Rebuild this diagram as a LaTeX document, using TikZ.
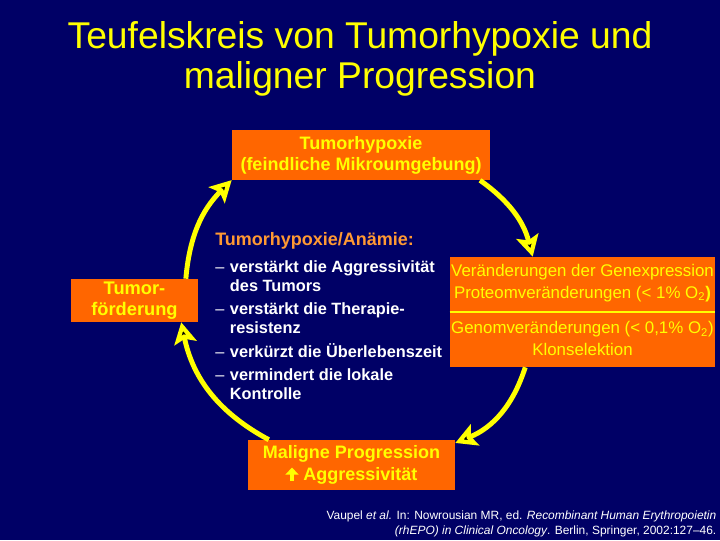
\documentclass[tikz,border=0pt]{standalone}
\usepackage{fontspec}
\setmainfont{Liberation Sans}
\usetikzlibrary{arrows.meta}
\definecolor{slidebg}{RGB}{0,0,102}
\definecolor{boxorange}{RGB}{255,102,0}
\definecolor{textyellow}{RGB}{255,255,0}
\definecolor{headorange}{RGB}{255,153,51}
\newcommand\dashitem{\makebox[0.9em][l]{\mdseries –}}
\newcommand\dashgap{\hspace*{0.9em}}
\newcommand\uparr{\tikz[baseline=0pt]\draw[textyellow,line width=2.2pt,
  -{Triangle[length=5pt,width=9pt]}] (0,0) -- (0,9.5pt);}
\begin{document}
\begin{tikzpicture}[x=0.025cm,y=0.025cm,
  box/.style={fill=boxorange,text=textyellow,align=center,inner sep=0pt},
  loop arrow/.style={draw=textyellow,line width=3.5pt,
    -{Stealth[length=15pt,width=16pt,inset=3pt]}},
  ]
  \fill[slidebg] (0,0) rectangle (720,540);
  \node[text=textyellow,align=center,font=\fontsize{26.5}{28.5}\selectfont]
    (title) at (360,481) {Teufelskreis von Tumorhypoxie und\\maligner Progression};
  % the four boxes of the cycle
  \node[box,minimum width=6.45cm,minimum height=1.25cm,
    font=\bfseries\fontsize{12.8}{15}\selectfont]
    (topbox) at (361,385) {Tumorhypoxie\\(feindliche Mikroumgebung)};
  \node[box,minimum width=3.175cm,minimum height=1.075cm,
    font=\bfseries\fontsize{13}{15}\selectfont]
    (leftbox) at (134.5,239.5) {Tumor-\\förderung};
  \node[box,minimum width=6.625cm,minimum height=2.75cm] (genbox) at (582.5,228) {};
  \draw[textyellow,line width=1.5pt] (genbox.west) -- (genbox.east);
  \node[text=textyellow,align=center,font=\fontsize{12}{15.5}\selectfont]
    (genup) at (582.5,257) {Veränderungen der Genexpression\\
    Proteomveränderungen (< 1\% O\textsubscript{2}\textbf{)}};
  \node[text=textyellow,align=center,font=\fontsize{12}{15}\selectfont]
    (genlow) at (582.5,201.5) {Genomveränderungen (< 0,1\% O\textsubscript{2})\\
    Klonselektion};
  \node[box,minimum width=5.175cm,minimum height=1.25cm,
    font=\bfseries\fontsize{12.8}{16}\selectfont]
    (progbox) at (351.5,75) {Maligne Progression\\\uparr\ Aggressivität};
  % text in the middle
  \node[anchor=base west,text=headorange,inner sep=0pt,
    font=\bfseries\fontsize{12.8}{15}\selectfont]
    (head) at (215,295) {Tumorhypoxie/Anämie:};
  \node[anchor=north west,text=white,align=left,inner sep=0pt,
    font=\bfseries\fontsize{11.6}{13.6}\selectfont]
    (effects) at (215,280) {\dashitem verstärkt die Aggressivität\\
    \dashgap des Tumors\\[3pt]
    \dashitem verstärkt die Therapie-\\
    \dashgap resistenz\\[3pt]
    \dashitem verkürzt die Überlebenszeit\\[3pt]
    \dashitem vermindert die lokale\\
    \dashgap Kontrolle};
  % source
  \node[anchor=south east,text=white,align=right,inner sep=1pt,
    font=\fontsize{8.5}{10.8}\selectfont]
    (source) at (718,1) {Vaupel \textit{et al.} In: Nowrousian MR, ed. \textit{Recombinant Human Erythropoietin}\\
    \textit{(rhEPO) in Clinical Oncology}. Berlin, Springer, 2002:127–46.};
  % the cycle
  \draw[loop arrow] (leftbox.23) to[bend left=20] (topbox.191);
  \draw[loop arrow] (topbox.348) to[bend left=20] (genbox.132);
  \draw[loop arrow] (genbox.224) to[bend left=25] (progbox.12);
  \draw[loop arrow] (progbox.163) to[bend left=25] (leftbox.335);
\end{tikzpicture}
\end{document}
